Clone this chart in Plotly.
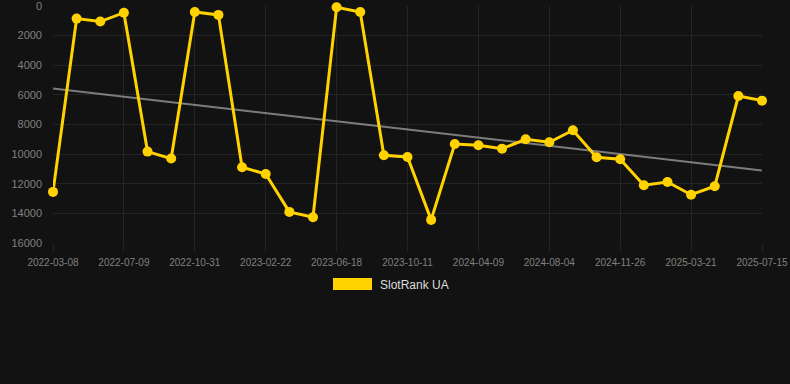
import numpy as np
import plotly.graph_objects as go

dates = [
    "2022-03-08", "2022-04-18", "2022-05-29", "2022-07-09", "2022-08-16", "2022-09-23",
    "2022-10-31", "2022-12-08", "2023-01-15", "2023-02-22", "2023-04-01", "2023-05-10",
    "2023-06-18", "2023-07-27", "2023-09-03", "2023-10-11", "2023-12-10", "2024-02-08",
    "2024-04-09", "2024-05-17", "2024-06-26", "2024-08-04", "2024-09-11", "2024-10-19",
    "2024-11-26", "2025-01-08", "2025-02-13", "2025-03-21", "2025-04-30", "2025-06-07",
    "2025-07-15",
]
rank = [
    12550, 850, 1050, 450, 9830, 10300,
    400, 600, 10890, 11340, 13900, 14260,
    90, 400, 10080, 10190, 14440, 9320,
    9400, 9630, 9000, 9200, 8390, 10210,
    10350, 12100, 11880, 12740, 12170, 6080,
    6390,
]
tick_labels = dates[::3]
y_ticks = [0, 2000, 4000, 6000, 8000, 10000, 12000, 14000, 16000]
series_name = "SlotRank UA"

idx = np.arange(len(rank))
slope, intercept = np.polyfit(idx, rank, 1)
trend = slope * idx + intercept

gold = "#FFD200"
grid = "#242424"
fig = go.Figure()
fig.add_trace(go.Scatter(
    x=dates, y=trend, mode="lines",
    line=dict(color="rgba(160,160,160,0.75)", width=2),
    showlegend=False, hoverinfo="skip",
))
fig.add_trace(go.Scatter(
    x=dates, y=rank, mode="lines+markers", name=series_name,
    line=dict(color=gold, width=3),
    marker=dict(color=gold, size=10),
    showlegend=False, cliponaxis=False,
))

T, B, L, R = 6, 141, 53, 28
ph = 384 - T - B
pw = 790 - L - R
fig.update_layout(
    width=790, height=384,
    paper_bgcolor="#121212", plot_bgcolor="#121212",
    margin=dict(l=L, r=R, t=T, b=B, autoexpand=False),
    font=dict(family="Liberation Sans, Arial, sans-serif", color="#8a8a8a"),
    xaxis=dict(
        type="category", categoryorder="array", categoryarray=dates,
        range=[0, len(dates) - 1], automargin=False,
        tickmode="array", tickvals=tick_labels, ticktext=tick_labels,
        showgrid=True, gridcolor=grid, gridwidth=1,
        zeroline=False, showline=False,
        ticks="outside", ticklen=8, tickcolor=grid, tickwidth=1,
        tickfont=dict(size=10, color="#808080"),
        ticklabelstandoff=2, ticklabeloverflow="allow",
    ),
    yaxis=dict(
        range=[16000, 0], tickmode="array", tickvals=y_ticks, automargin=False,
        showgrid=True, gridcolor=grid, gridwidth=1,
        zeroline=False, showline=False, ticks="",
        tickfont=dict(size=11, color="#808080"),
        tickformat="d", ticklabelstandoff=10, ticklabeloverflow="allow",
    ),
    shapes=[dict(
        type="rect", xref="paper", yref="paper",
        x0=(333 - L) / pw, x1=(372 - L) / pw,
        y0=(384 - B - 290) / ph, y1=(384 - B - 278) / ph,
        fillcolor=gold, line=dict(width=0),
    )],
    annotations=[dict(
        text=series_name, xref="paper", yref="paper",
        x=(378 - L) / pw, y=(384 - B - 284.5) / ph,
        xanchor="left", yanchor="middle", showarrow=False,
        font=dict(size=12, color="#dddddd"),
    )],
)

fig.write_html(
    "out.html",
    config={"displayModeBar": False},
    post_script="document.body.style.margin='0';document.body.style.background='#121212';",
)
